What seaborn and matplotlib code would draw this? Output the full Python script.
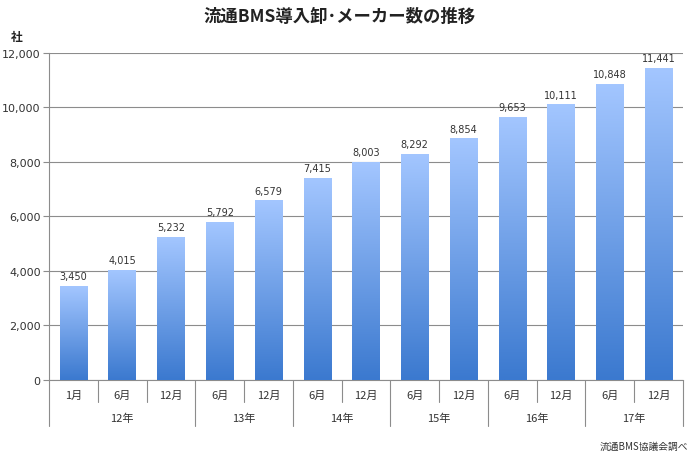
import numpy as np
import pandas as pd
import matplotlib
matplotlib.use("Agg")
import matplotlib.pyplot as plt
import matplotlib.transforms as mtransforms
from matplotlib.colors import LinearSegmentedColormap
import seaborn as sns

# ---- data ----
years = ["12年", "12年", "12年", "13年", "13年", "14年", "14年", "15年", "15年", "16年", "16年", "17年", "17年"]
months = ["1月", "6月", "12月", "6月", "12月", "6月", "12月", "6月", "12月", "6月", "12月", "6月", "12月"]
values = [3450, 4015, 5232, 5792, 6579, 7415, 8003, 8292, 8854, 9653, 10111, 10848, 11441]
yticks = [0, 2000, 4000, 6000, 8000, 10000, 12000]
title = "流通BMS導入卸･メーカー数の推移"
unit = "社"
source = "流通BMS協議会調べ"

sns.set_theme(style="white")
plt.rcParams["font.family"] = ["Noto Sans CJK JP", "DejaVu Sans"]

df = pd.DataFrame({"period": [y + m for y, m in zip(years, months)], "value": values})

fig = plt.figure(figsize=(6.96, 4.56), dpi=100)
ax = fig.add_axes([49 / 696, 1 - 380.7 / 456, 634 / 696, (380.7 - 54) / 456])

sns.barplot(data=df, x="period", y="value", color="#6a9ee8", width=0.56, ax=ax,
            saturation=1, zorder=3)

cmap = LinearSegmentedColormap.from_list("g", ["#3b79cf", "#a3c6ff"])
grad = np.linspace(0, 1, 256).reshape(-1, 1)
for p in ax.patches:
    x0, w, h = p.get_x(), p.get_width(), p.get_height()
    p.set_facecolor("none")
    p.set_edgecolor("none")
    ax.imshow(grad, cmap=cmap, origin="lower", aspect="auto",
              extent=(x0, x0 + w, 0, h), zorder=3, interpolation="bilinear")
    ax.text(x0 + w / 2, h + 180, f"{int(h):,}", ha="center", va="bottom",
            fontsize=7, color="#333333", family=["DejaVu Sans"], zorder=4)

n = len(values)
ax.set_xlim(-0.5, n - 0.5)
ax.set_ylim(0, 12000)
ax.set_yticks(yticks)
ax.set_yticklabels([f"{v:,}" for v in yticks], fontsize=8, color="#333333",
                   family=["DejaVu Sans"])
ax.tick_params(axis="y", length=4, width=0.8, color="#8c8c8c", pad=2, left=True)
ax.set_xticks([])
ax.set_xlabel("")
ax.set_ylabel("")
ax.grid(axis="y", color="#8c8c8c", linewidth=0.8, zorder=0)
for s in ["top", "right"]:
    ax.spines[s].set_visible(False)
ax.spines["left"].set_color("#8c8c8c")
ax.spines["bottom"].set_color("#8c8c8c")
ax.spines["left"].set_linewidth(0.8)
ax.spines["bottom"].set_linewidth(0.8)

# two-level category axis
trans = mtransforms.blended_transform_factory(ax.transData, ax.transAxes)
ax_h_px = 380.7 - 54
def ay(py):
    return -(py - 380.7) / ax_h_px

month_bottom = ay(403)
year_bottom = ay(427)
for i in range(n + 1):
    xb = i - 0.5
    is_year = i == 0 or i == n or years[i] != years[i - 1]
    yb = year_bottom if is_year else month_bottom
    ax.plot([xb, xb], [0, yb], transform=trans, color="#8c8c8c", lw=0.8, clip_on=False)
for i, m in enumerate(months):
    ax.text(i, ay(396), m, transform=trans, ha="center", va="center", fontsize=8, color="#333333")
start = 0
for i in range(1, n + 1):
    if i == n or years[i] != years[start]:
        ax.text((start + i - 1) / 2, ay(419), years[start], transform=trans,
                ha="center", va="center", fontsize=8, color="#333333")
        start = i

fig.text(340 / 696, 1 - 17 / 456, title, ha="center", va="center", fontsize=12.5,
         fontweight="bold", color="#222222")
fig.text(17 / 696, 1 - 38 / 456, unit, ha="center", va="center", fontsize=8.5,
         fontweight="bold", color="#222222")
fig.text(688 / 696, 1 - 447 / 456, source, ha="right", va="center", fontsize=7,
         color="#333333")

fig.savefig("out.png", dpi=100)
